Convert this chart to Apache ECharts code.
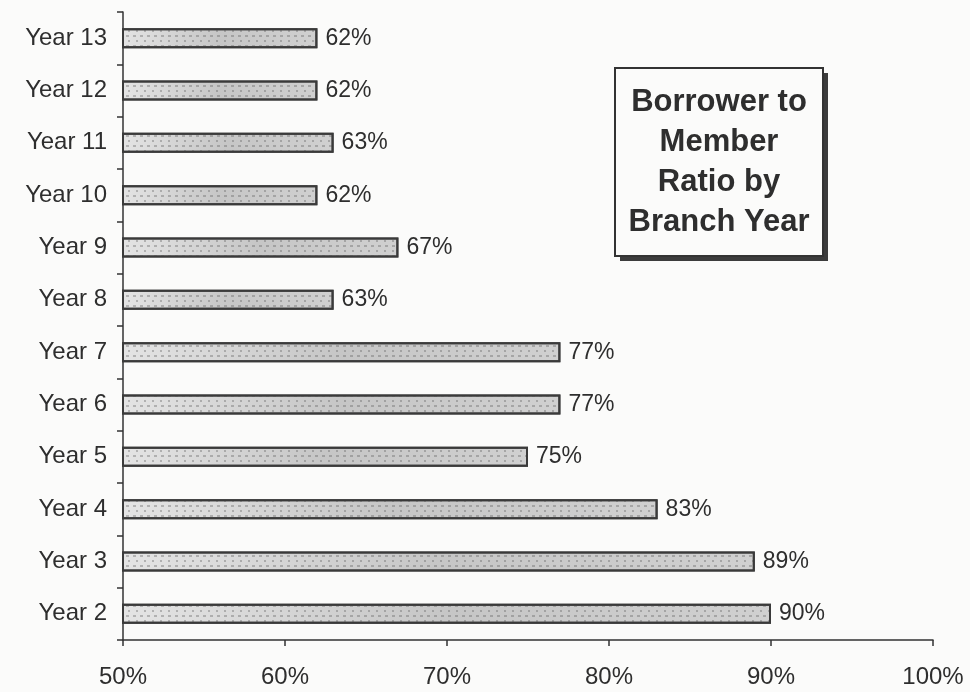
<!DOCTYPE html>
<html>
<head>
<meta charset="utf-8">
<title>Borrower to Member Ratio by Branch Year</title>
<script src="https://cdn.jsdelivr.net/npm/echarts@6/dist/echarts.min.js"></script>
<style>
  html, body { margin: 0; padding: 0; background: #fbfbfa; }
  #chart { width: 970px; height: 692px; }
</style>
</head>
<body>
<div id="chart"></div>
<script>
// Branch years, bottom to top
const branchYears = ['Year 2', 'Year 3', 'Year 4', 'Year 5', 'Year 6', 'Year 7',
                     'Year 8', 'Year 9', 'Year 10', 'Year 11', 'Year 12', 'Year 13'];
// Borrower to member ratio (%) for each branch year
const ratioPct = [90, 89, 83, 75, 77, 77, 63, 67, 62, 63, 62, 62];
// Value axis range and step (%)
const axisMin = 50;
const axisMax = 100;
const axisStep = 10;
const titleLines = ['Borrower to', 'Member', 'Ratio by', 'Branch Year'];

const textColor = '#2e2e2e';
const fontFamily = 'Arial, "Liberation Sans", sans-serif';

const chart = echarts.init(document.getElementById('chart'), null, { renderer: 'canvas' });

chart.setOption({
  backgroundColor: '#fbfbfa',
  animation: false,
  grid: { left: 123, right: 37, top: 12, bottom: 52, containLabel: false },
  xAxis: {
    type: 'value',
    min: axisMin,
    max: axisMax,
    interval: axisStep,
    splitLine: { show: false },
    axisLine: { show: true, lineStyle: { color: '#333', width: 1.5 } },
    axisTick: { show: true, length: 6, lineStyle: { color: '#333', width: 1.5 } },
    axisLabel: {
      formatter: '{value}%',
      color: textColor,
      fontFamily: fontFamily,
      fontSize: 24,
      margin: 25
    }
  },
  yAxis: {
    type: 'category',
    data: branchYears,
    boundaryGap: true,
    axisLine: { show: true, lineStyle: { color: '#333', width: 1.5 } },
    axisTick: { show: true, length: 6, lineStyle: { color: '#333', width: 1.5 } },
    axisLabel: {
      color: textColor,
      fontFamily: fontFamily,
      fontSize: 24,
      margin: 16
    }
  },
  series: [{
    type: 'bar',
    data: ratioPct,
    barWidth: 20,
    itemStyle: {
      color: {
        type: 'linear', x: 0, y: 0, x2: 1, y2: 0,
        colorStops: [
          { offset: 0, color: '#e4e4e4' },
          { offset: 0.5, color: '#c6c6c6' },
          { offset: 1, color: '#d0d0d0' }
        ]
      },
      borderColor: '#3a3a3a',
      borderWidth: 2,
      decal: {
        symbol: 'rect',
        symbolSize: 1,
        dashArrayX: [[3, 4], [2, 6]],
        dashArrayY: [2, 3],
        rotation: 0,
        color: 'rgba(90,90,90,0.35)'
      }
    },
    label: {
      show: true,
      position: 'right',
      distance: 8,
      formatter: p => p.value + '%',
      color: textColor,
      fontFamily: fontFamily,
      fontSize: 23
    }
  }],
  graphic: [{
    type: 'group',
    left: 614,
    top: 67,
    children: [
      {
        type: 'rect',
        shape: { x: 5, y: 5, width: 208, height: 188 },
        style: { fill: '#3c3c3c' }
      },
      {
        type: 'rect',
        shape: { x: 0, y: 0, width: 208, height: 188 },
        style: { fill: '#fbfbfa', stroke: '#333', lineWidth: 2 }
      },
      {
        type: 'text',
        x: 104,
        y: 94,
        style: {
          text: titleLines.join('\n'),
          align: 'center',
          verticalAlign: 'middle',
          lineHeight: 40,
          fill: '#2e2e2e',
          font: 'bold 31px Arial, "Liberation Sans", sans-serif'
        }
      }
    ]
  }]
});
</script>
</body>
</html>
